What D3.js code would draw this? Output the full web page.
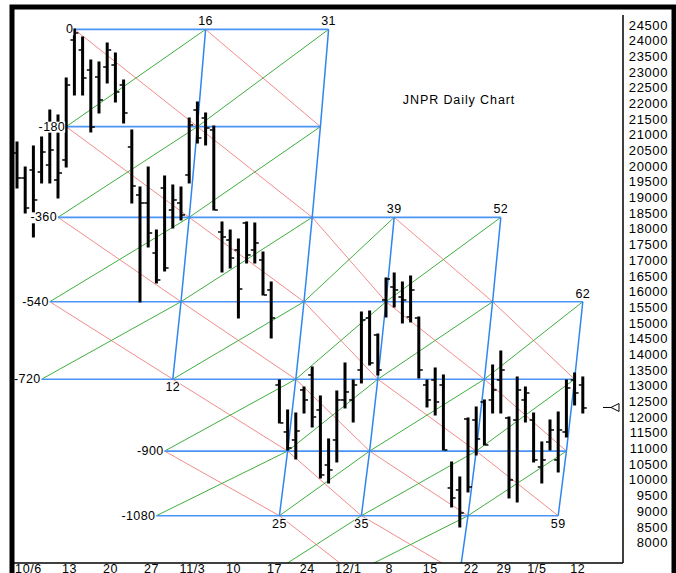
<!DOCTYPE html>
<html>
<head>
<meta charset="utf-8">
<script src="https://cdn.jsdelivr.net/npm/d3@7"></script>
<style>
body { margin: 0; background: #fff; }
text { font-family: "Liberation Sans", Arial, sans-serif; fill: #000; }
</style>
</head>
<body>
<svg id="chart" width="676" height="573"></svg>
<script>
// daily OHLC, price x100
const highs  = [20771,19974,20644,20931,21791,21632,22811,24373,24118,23385,23321,23926,23608,22747,21154,19337,19974,17966,19688,19401,19337,21536,22046,21696,21281,
                18222,17966,17680,18222,18190,17265,16309,13186,12230,12134,12963,13601,12677,11306,12836,13728,13186,15353,15385,14652,16437,16596,16309,16501,15194,
                13186,13569,13346,10573,10095,11975,12326,12549,13664,14110,12007,13282,12963,12134,11210,11911,12166,13186,13409,13282];
const lows   = [19305,18508,17744,19465,19465,18987,19974,22269,22269,21090,21696,22652,22046,21377,18827,15672,17425,16278,16660,18030,18285,19465,20739,20676,18604,
                16628,16756,15162,16915,16915,15895,14525,11816,10955,10669,12134,11688,10063,9903,10573,12294,11847,13091,13664,13346,15194,15513,15003,15035,13250,
                12326,12070,10955,9139,8501,9617,10796,11115,12134,12134,9426,9298,11847,10573,9903,10955,10254,11369,12390,12134];
const opens  = [20421,19624,19879,19815,20038,19560,20198,24022,23703,23066,22843,23161,23225,22588,20612,19082,18827,17234,19305,18604,18827,19720,21791,21536,21154,
                17903,17648,17329,18190,17329,17010,16055,13027,11529,11274,12868,13346,12230,10477,11274,12549,12549,13505,15162,14620,15736,16150,15831,15194,15162,
                13027,13186,13027,9744,9681,11943,11911,12485,12549,13186,11975,11911,12549,11911,10414,11210,10637,11529,13186,13027];
const closes = [19624,18668,18923,20452,20516,19783,22588,24245,22811,21249,22110,23703,22365,21696,19369,18827,17871,16373,16756,18923,18445,21313,20899,21217,18604,
                17744,17074,16086,17170,17552,15895,15162,11816,11019,11561,12549,12007,10159,10318,12549,12804,13027,15099,13728,13505,16405,16055,15736,16055,13505,
                12549,12485,10955,9426,8948,9776,11306,11115,12868,13505,10000,12868,12772,10637,10637,11592,11592,12932,12772,12294];

// week labels, bar index of each week
const dateLabels = ["10/6","13","20","27","11/3","10","17","24","12/1","8","15","22","29","1/5","12"];
const dateIdx    = [0,5,10,15,20,25,30,34,39,44,49,54,58,62,67];

const priceTicks = [24500,24000,23500,23000,22500,22000,21500,21000,20500,20000,19500,19000,18500,18000,17500,
                    17000,16500,16000,15500,15000,14500,14000,13500,13000,12500,12000,11500,11000,10500,10000,9500,9000,8500,8000];

// gann grid: price levels, column counts from the top bar
const levelNames  = ["0","-180","-360","-540","-720","-900","-1080"];
const levelPrices = [24360,21260,18370,15680,13210,10920,8860,7020];
const startBar = 7;
const levelSpans = [[0,31],[0,31],[0,54],[0,65],[0,65],[16,65],[16,65]];
const colSpans = [[16,0,4],[31,0,6],[41,2,6],[54,2,7],[65,3,6]];
const cellRows = [
  [[0,16],[16,31]],
  [[0,16],[16,31]],
  [[0,16],[16,31],[31,41],[41,54]],
  [[0,16],[16,31],[31,41],[41,54],[54,65]],
  [[16,31],[31,41],[41,54],[54,65]],
  [[16,31],[31,41],[41,54],[54,65]],
  [[31,41],[41,54]]
];
const lastPrice = 12310;

const svg = d3.select("#chart");
const x = d3.scaleLinear().domain([0, 69]).range([17, 582.8]);
const y = d3.scaleLinear().domain([8000, 24500]).range([542.7, 25]);
const plot = {left: 14, right: 623, top: 9, bottom: 563};

svg.append("clipPath").attr("id", "clip")
  .append("rect")
  .attr("x", plot.left).attr("y", plot.top)
  .attr("width", plot.right - plot.left).attr("height", plot.bottom - plot.top);

const node = (k, c) => [x(startBar + c - k), y(levelPrices[k])];

const grid = svg.append("g").attr("clip-path", "url(#clip)");

// diagonals
cellRows.forEach(function (row, k) {
  row.forEach(function (cell) {
    const a = node(k, cell[0]), b = node(k + 1, cell[1]);
    grid.append("line").attr("x1", a[0]).attr("y1", a[1]).attr("x2", b[0]).attr("y2", b[1])
      .style("stroke", "#f28c8c").style("stroke-width", 1);
    const c = node(k + 1, cell[0]), d = node(k, cell[1]);
    grid.append("line").attr("x1", c[0]).attr("y1", c[1]).attr("x2", d[0]).attr("y2", d[1])
      .style("stroke", "#3fae3f").style("stroke-width", 1);
  });
});

// horizontal levels
levelSpans.forEach(function (s, k) {
  const a = node(k, s[0]), b = node(k, s[1]);
  grid.append("line").attr("x1", a[0]).attr("y1", a[1]).attr("x2", b[0]).attr("y2", b[1])
    .style("stroke", "#4a94f5").style("stroke-width", 1.6);
});

// slanted time columns
colSpans.forEach(function (s) {
  const pts = d3.range(s[1], s[2] + 1).map(k => node(k, s[0]));
  grid.append("path").attr("d", d3.line()(pts))
    .style("fill", "none").style("stroke", "#2f86f0").style("stroke-width", 1.5);
});

// bars
const bars = svg.append("g");
highs.forEach(function (h, i) {
  const cx = x(i);
  bars.append("line").attr("x1", cx).attr("x2", cx).attr("y1", y(h) - 0.5).attr("y2", y(lows[i]) + 0.5)
    .style("stroke", "#000").style("stroke-width", 3);
  bars.append("line").attr("x1", cx - 4).attr("x2", cx - 1).attr("y1", y(opens[i])).attr("y2", y(opens[i]))
    .style("stroke", "#000").style("stroke-width", 1.5);
  bars.append("line").attr("x1", cx + 1).attr("x2", cx + 4).attr("y1", y(closes[i])).attr("y2", y(closes[i]))
    .style("stroke", "#000").style("stroke-width", 1.5);
});

// labels with white background
const labels = svg.append("g");
function label(txt, px, py, anchor) {
  const t = labels.append("text").attr("x", px).attr("y", py)
    .attr("text-anchor", anchor).attr("dominant-baseline", "central")
    .style("font-size", "12.5px").style("letter-spacing", "0.4px").text(txt);
  const bb = t.node().getBBox();
  labels.insert("rect", "text").attr("x", bb.x).attr("y", bb.y + 2)
    .attr("width", bb.width).attr("height", bb.height - 3).style("fill", "#fff");
  t.raise();
}

levelNames.forEach(function (name, k) {
  const p = node(k, levelSpans[k][0]);
  label(name, p[0] - 1, p[1], "end");
});

colSpans.forEach(function (s) {
  const top = node(s[1], s[0]);
  label(String(s[0] - s[1]), top[0], top[1] - 8, "middle");
  if (s[2] < levelNames.length) {
    const bot = node(s[2], s[0]);
    label(String(s[0] - s[2]), bot[0], bot[1] + 8, "middle");
  }
});

svg.append("text").attr("x", 459).attr("y", 104).attr("text-anchor", "middle")
  .style("font-size", "12.5px").style("letter-spacing", "0.9px").text("JNPR Daily Chart");

// right price axis
svg.append("line").attr("x1", plot.right).attr("x2", plot.right).attr("y1", 15).attr("y2", plot.bottom)
  .style("stroke", "#000").style("stroke-width", 1.5);
svg.append("g").selectAll("text").data(priceTicks).enter().append("text")
  .attr("x", 668).attr("y", d => y(d)).attr("text-anchor", "end").attr("dominant-baseline", "central")
  .style("font-size", "13px").style("letter-spacing", "0.6px").text(d => d);

// last price marker
const ly = y(lastPrice);
svg.append("line").attr("x1", 603).attr("x2", 611).attr("y1", ly).attr("y2", ly).style("stroke", "#000");
svg.append("path").attr("d", `M611,${ly}L619,${ly - 4}L619,${ly + 4}Z`)
  .style("fill", "#fff").style("stroke", "#000").style("stroke-width", 1);

// bottom date axis
svg.append("line").attr("x1", plot.left).attr("x2", plot.right).attr("y1", plot.bottom).attr("y2", plot.bottom)
  .style("stroke", "#000").style("stroke-width", 1.5);
svg.append("g").selectAll("text").data(dateLabels).enter().append("text")
  .attr("x", (d, i) => x(dateIdx[i] + 1.4)).attr("y", 573).attr("text-anchor", "middle")
  .style("font-size", "12.5px").style("letter-spacing", "0.6px").text(d => d);

// outer frame
svg.append("rect").attr("x", 12).attr("y", 7).attr("width", 662).attr("height", 620)
  .style("fill", "none").style("stroke", "#000").style("stroke-width", 5);
</script>
</body>
</html>
